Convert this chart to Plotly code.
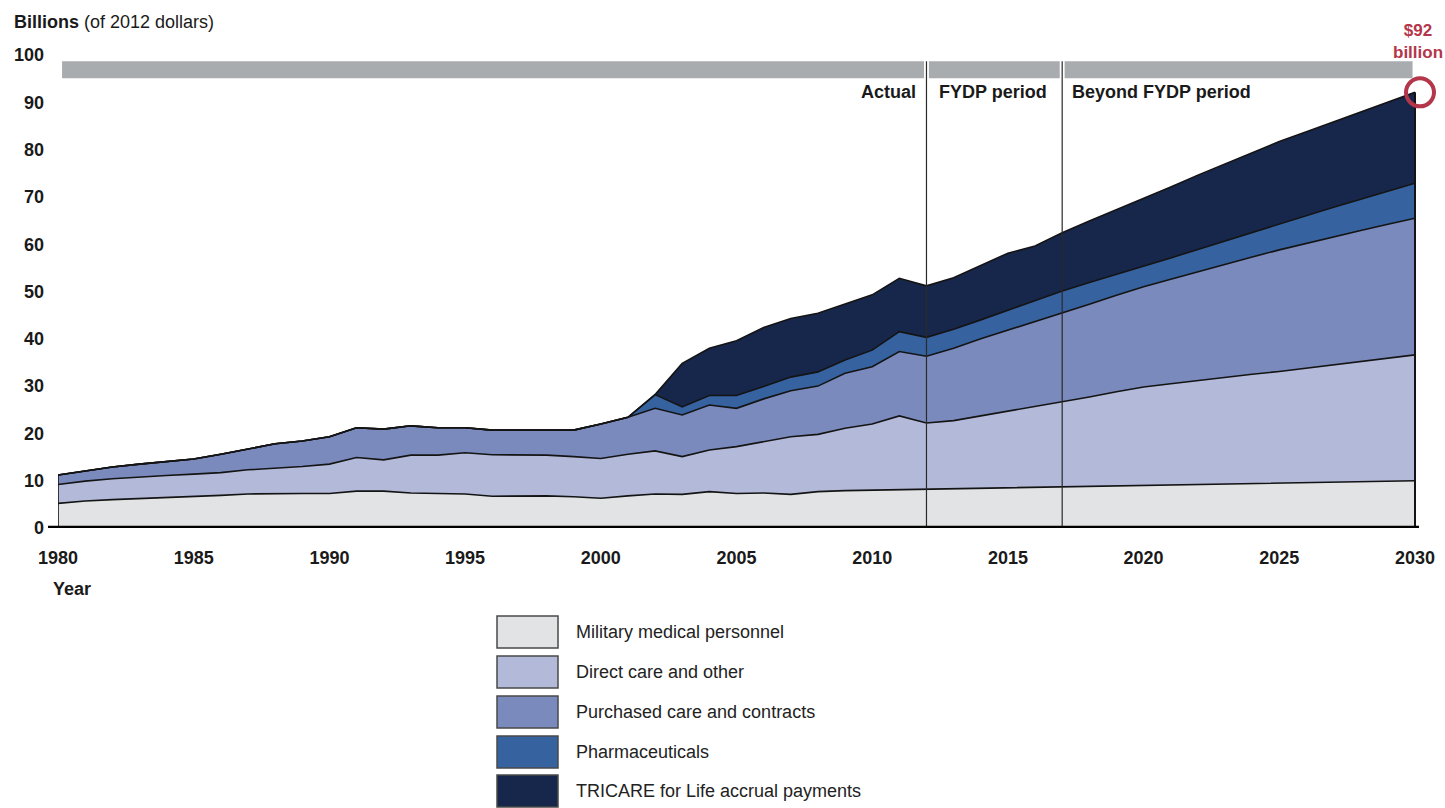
import plotly.graph_objects as go

# ---------------- data ----------------
years = list(range(1980, 2031))

military = [5.2, 5.7, 6.0, 6.2, 6.4, 6.7, 6.9, 7.2, 7.3, 7.3,
            7.3, 7.8, 7.8, 7.4, 7.3, 7.2, 6.7, 6.8, 6.8, 6.6,
            6.3, 6.8, 7.2, 7.1, 7.7, 7.3, 7.4, 7.1, 7.7, 7.9,
            8.0, 8.2, 8.3, 8.4, 8.4, 8.5, 8.6, 8.7, 8.8, 8.9,
            9.0, 9.1, 9.2, 9.3, 9.4, 9.5, 9.6, 9.7, 9.8, 9.9, 10.0]

direct_care = [4.0, 4.2, 4.4, 4.6, 4.7, 4.7, 4.8, 5.1, 5.3, 5.7,
               6.2, 7.1, 6.6, 8.0, 8.1, 8.7, 8.8, 8.7, 8.6, 8.5,
               8.4, 8.8, 9.1, 8.0, 8.8, 9.9, 10.8, 12.2, 12.1, 13.2,
               14.0, 15.5, 13.9, 14.3, 15.3, 16.2, 17.0, 17.9, 18.9, 19.9,
               20.8, 21.4, 22.0, 22.5, 23.1, 23.6, 24.2, 24.8, 25.4, 26.0, 26.6]

purchased = [2.0, 2.2, 2.5, 2.7, 2.9, 3.2, 3.9, 4.4, 5.2, 5.4,
             5.8, 6.3, 6.5, 6.2, 5.8, 5.3, 5.2, 5.2, 5.3, 5.6,
             7.3, 7.8, 9.0, 8.8, 9.5, 8.1, 9.1, 9.7, 10.2, 11.6,
             12.1, 13.6, 14.1, 15.3, 16.3, 17.1, 18.0, 18.8, 19.6, 20.4,
             21.2, 22.1, 23.0, 24.0, 24.8, 25.7, 26.4, 27.1, 27.7, 28.3, 28.9]

pharmaceuticals = [0, 0, 0, 0, 0, 0, 0, 0, 0, 0,
                   0, 0, 0, 0, 0, 0, 0, 0, 0, 0,
                   0, 0, 2.9, 1.7, 2.0, 2.7, 2.6, 2.9, 3.0, 2.8,
                   3.5, 4.2, 4.0, 4.0, 4.0, 4.2, 4.4, 4.7, 4.6, 4.4,
                   4.3, 4.5, 4.7, 4.9, 5.2, 5.5, 5.9, 6.2, 6.6, 7.0, 7.4]

tricare_life = [0, 0, 0, 0, 0, 0, 0, 0, 0, 0,
                0, 0, 0, 0, 0, 0, 0, 0, 0, 0,
                0, 0, 0, 9.2, 10.0, 11.6, 12.5, 12.4, 12.4, 11.9,
                11.7, 11.3, 10.9, 10.9, 11.5, 12.1, 11.6, 12.3, 13.0, 13.7,
                14.3, 15.0, 15.7, 16.3, 16.9, 17.4, 17.7, 18.1, 18.5, 18.9, 19.2]

series_names = ["Military medical personnel", "Direct care and other",
                "Purchased care and contracts", "Pharmaceuticals",
                "TRICARE for Life accrual payments"]
series_values = [military, direct_care, purchased, pharmaceuticals, tricare_life]
series_colors = ["#e1e3e5", "#b3bad9", "#7a8abd", "#3662a0", "#17264b"]

period_bounds = [1980, 2012, 2017, 2030]
period_labels = ["Actual", "FYDP period", "Beyond FYDP period"]
x_ticks = list(range(1980, 2031, 5))
y_ticks = list(range(0, 101, 10))
x_range = [1980, 2030]
y_range = [0, 100]
headline = "$92<br>billion"

FONT = "Liberation Sans, Arial, Helvetica, sans-serif"

# ---------------- geometry (page pixels; body margin removed below) ----------------
W, H = 1445, 808
PL, PR, PT, PB = 58, 1415, 55, 528          # plot area in page pixels
L, T, R, B = PL, PT, W - PR, H - PB
PW, PH = PR - PL, PB - PT


def px_x(px):
    return (px - PL) / PW


def px_y(py):
    return (PB - py) / PH


fig = go.Figure()
for name, vals, col in zip(series_names, series_values, series_colors):
    fig.add_trace(go.Scatter(
        x=years, y=vals, name=name, stackgroup="one", mode="lines",
        line=dict(color="#141414", width=1.6), fillcolor=col,
        showlegend=False, hoverinfo="x+y+name"))

totals = [sum(v) for v in zip(*series_values)]

shapes = []
# left / right edges of the stacked area
shapes.append(dict(type="line", xref="x", yref="y", x0=years[0], x1=years[0], y0=0, y1=totals[0],
                   line=dict(color="#141414", width=1.6), layer="above"))
shapes.append(dict(type="line", xref="paper", yref="y",
                   x0=(years[-1] - x_range[0]) / (x_range[1] - x_range[0]),
                   x1=(years[-1] - x_range[0]) / (x_range[1] - x_range[0]),
                   y0=0, y1=totals[-1], line=dict(color="#141414", width=2), layer="above"))
# grey period bars
gap = 0.09
for i in range(3):
    a, b = period_bounds[i], period_bounds[i + 1]
    shapes.append(dict(type="rect", xref="x", yref="y",
                       x0=a + (0.15 if i == 0 else gap), x1=b - gap,
                       y0=95.1, y1=98.7, fillcolor="#a9acaf", line=dict(width=0), layer="above"))
# period divider lines
for b in period_bounds[1:-1]:
    shapes.append(dict(type="line", xref="x", yref="y", x0=b, x1=b, y0=0, y1=98.7,
                       line=dict(color="#2a2a2a", width=1.2), layer="above"))
# baseline
shapes.append(dict(type="line", xref="paper", yref="y", x0=px_x(48), x1=px_x(1419), y0=0, y1=0,
                   line=dict(color="#000000", width=4.5), layer="above"))
# red circle around the 2030 total (paper-referenced so it is not clipped)
shapes.append(dict(type="circle", xref="paper", yref="paper", xsizemode="pixel", ysizemode="pixel",
                   xanchor=(years[-1] - x_range[0]) / (x_range[1] - x_range[0]),
                   yanchor=(totals[-1] - y_range[0]) / (y_range[1] - y_range[0]),
                   x0=-9, x1=19, y0=-14, y1=14,
                   line=dict(color="#b3364a", width=4), layer="above"))

annotations = []
# y-axis title
annotations.append(dict(text="<b>Billions</b> (of 2012 dollars)", xref="paper", yref="paper",
                        x=px_x(12), y=px_y(22), xanchor="left", yanchor="middle", showarrow=False,
                        font=dict(family=FONT, size=18, color="#1a1a1a")))
# x-axis title
annotations.append(dict(text="<b>Year</b>", xref="paper", yref="paper",
                        x=px_x(51), y=px_y(589), xanchor="left", yanchor="middle", showarrow=False,
                        font=dict(family=FONT, size=18, color="#1a1a1a")))
# period labels
annotations.append(dict(text="<b>" + period_labels[0] + "</b>", xref="x", yref="paper",
                        x=period_bounds[1], xshift=-8, y=px_y(92), xanchor="right", yanchor="middle",
                        showarrow=False, font=dict(family=FONT, size=18, color="#1a1a1a")))
annotations.append(dict(text="<b>" + period_labels[1] + "</b>", xref="x", yref="paper",
                        x=period_bounds[1], xshift=11, y=px_y(92), xanchor="left", yanchor="middle",
                        showarrow=False, font=dict(family=FONT, size=18, color="#1a1a1a")))
annotations.append(dict(text="<b>" + period_labels[2] + "</b>", xref="x", yref="paper",
                        x=period_bounds[2], xshift=8, y=px_y(92), xanchor="left", yanchor="middle",
                        showarrow=False, font=dict(family=FONT, size=18, color="#1a1a1a")))
# headline value
annotations.append(dict(text="<b>" + headline + "</b>", xref="x", yref="paper",
                        x=years[-1], xshift=3, y=px_y(42), xanchor="center", yanchor="middle",
                        showarrow=False, font=dict(family=FONT, size=17, color="#b3364a")))

# custom legend
row_centers = [632, 672, 712, 752, 791]
for name, col, cy in zip(series_names, series_colors, row_centers):
    shapes.append(dict(type="rect", xref="paper", yref="paper",
                       x0=px_x(497), x1=px_x(558), y0=px_y(cy + 16), y1=px_y(cy - 16),
                       fillcolor=col, line=dict(color="#4a4a4a", width=1.5)))
    annotations.append(dict(text=name, xref="paper", yref="paper", x=px_x(574), y=px_y(cy),
                            xanchor="left", yanchor="middle", showarrow=False,
                            font=dict(family=FONT, size=18, color="#222222")))

fig.update_layout(
    width=W, height=H, autosize=False,
    margin=dict(l=L, r=R, t=T, b=B),
    paper_bgcolor="white", plot_bgcolor="white",
    font=dict(family=FONT, color="#1a1a1a"),
    showlegend=False,
    shapes=shapes, annotations=annotations,
    xaxis=dict(range=x_range, tickvals=x_ticks, automargin=False,
               ticktext=["<b>%d</b>" % t for t in x_ticks],
               showgrid=False, zeroline=False, showline=False, ticks="",
               ticklabelstandoff=17, tickfont=dict(family=FONT, size=18, color="#1a1a1a")),
    yaxis=dict(range=y_range, tickvals=y_ticks, automargin=False,
               ticktext=["<b>%d</b>" % t for t in y_ticks],
               showgrid=False, zeroline=False, showline=False, ticks="",
               ticklabelstandoff=13, tickfont=dict(family=FONT, size=18, color="#1a1a1a")),
)

fig.write_html("out.html",
               config={"displayModeBar": False},
               post_script="document.body.style.margin='0';document.body.style.overflow='hidden';")
